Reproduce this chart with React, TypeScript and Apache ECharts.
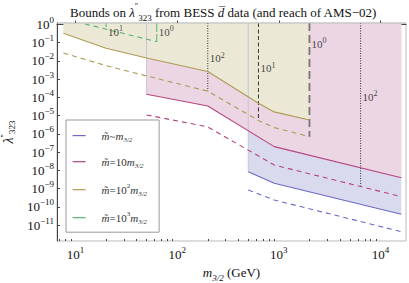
import React, { useEffect, useRef } from "react";
import * as echarts from "echarts";

const FONT = "'Liberation Serif', 'Times New Roman', serif";

// axis ranges (GeV, coupling)
const xRange = [6.58, 17800];
const yRange = [1.33e-12, 1.2];
const xTickExponents = [1, 2, 3, 4];
const yTickExponents = [0, -1, -2, -3, -4, -5, -6, -7, -8, -9, -10, -11];

// m~ = 10^2 m3/2 (yellow)
const yellowMass = [7.6, 20, 50, 200, 630, 900, 2000];
const yellowBound = [0.33, 0.05, 0.0145, 2.6e-3, 4.8e-5, 1.6e-5, 5.8e-6];
const yellowReach = [0.027, 5.5e-3, 1.5e-3, 2.2e-4, 5.4e-6, 2.2e-6, 7.0e-7];

// m~ = 10 m3/2 (pink)
const pinkMass = [50, 200, 900, 16000];
const pinkBound = [1.48e-4, 3.4e-5, 2.0e-7, 3.95e-9];
const pinkReach = [1.09e-5, 2.4e-6, 1.96e-8, 3.6e-10];

// m~ ~ m3/2 (blue)
const blueMass = [500, 900, 16000];
const blueBound = [8.4e-9, 1.95e-9, 3.9e-11];
const blueReach = [8.4e-10, 2.36e-10, 4.3e-12];

// m~ = 10^3 m3/2 (green)
const greenMass = [12.4, 63];
const greenReach = [1.06, 0.114];

// vertical marker lines
const markerMass = [20, 63, 200, 630, 2000, 6370];
const markerBottom = [0.56, 0.114, 2.2e-4, 5.4e-6, 7.0e-7, 1.28e-9];
const markerExponent = ["1", "0", "2", "1", "0", "2"];
const markerLabelY = [0.41, 0.41, 0.0136, 3.9e-3, 0.085, 1.1e-4];

const C = {
  blue: "#6a6ac8",
  pink: "#b5457f",
  yellow: "#ae9b55",
  green: "#55b470",
  dark: "#333333",
  fillBlue: "#dadaef",
  fillPink: "#ecd6e3",
  fillYellow: "#ebe8d6",
  edge: "#cbc5da",
};

const L = Math.log10;
const pts = (xs: number[], ys: number[]) => xs.map((x, i) => [L(x), L(ys[i])]);

const supRich = {
  b: { fontFamily: FONT, fontSize: 13, lineHeight: 18, color: "#111" },
  s: { fontFamily: FONT, fontSize: 9, lineHeight: 10, verticalAlign: "top", color: "#111" },
};
const powLabel = (v: number) => {
  const n = Math.round(v);
  return `{b|10}{s|${n < 0 ? "\u2212" + -n : n}}`;
};

const minorX: number[] = [];
for (let k = 0; k <= 4; k++) {
  for (let m = 2; m <= 9; m++) {
    const v = m * Math.pow(10, k);
    if (v > xRange[0] && v < xRange[1]) minorX.push(L(v));
  }
}

const legendNames = ["blue", "pink", "yellow", "green"];
const legendColors = [C.blue, C.pink, C.yellow, C.green];
const legendLabels: Record<string, string> = {
  blue: "{g| }{i|m\u0303}~{i|m}{s|3/2}",
  pink: "{g| }{i|m\u0303}=10{i|m}{s|3/2}",
  yellow: "{g| }{i|m\u0303}=10{e|2}{i|m}{s|3/2}",
  green: "{g| }{i|m\u0303}=10{e|3}{i|m}{s|3/2}",
};

const titleText =
  "{t|Bounds on }{l|\u03bb}{p|\u2033}{sub|323}{t| from BESS }{d|d\u0305}{t| data (and reach of AMS\u221202)}";

function buildOption() {
  const fill = (xs: number[], ys: number[], color: string, z: number) => ({
    type: "line",
    data: pts(xs, ys),
    symbol: "none",
    silent: true,
    z,
    color,
    lineStyle: { width: 0, opacity: 0 },
    areaStyle: { color, opacity: 1, origin: "end" },
  });
  const curve = (name: string, xs: number[], ys: number[], color: string, dashed: boolean) => ({
    name,
    type: "line",
    data: pts(xs, ys),
    symbol: "none",
    silent: true,
    z: 4,
    color,
    lineStyle: { color, width: 1.1, type: dashed ? [5, 4] : "solid" },
  });
  const edge = (x: number, yBottom: number) => ({
    type: "line",
    data: [
      [L(x), L(yRange[1])],
      [L(x), L(yBottom)],
    ],
    symbol: "none",
    silent: true,
    z: 2,
    color: C.edge,
    lineStyle: { color: C.edge, width: 1 },
  });
  const markerStyles = [
    { color: C.green, width: 1, type: [4, 2.5] },
    { color: C.green, width: 1, type: [9, 2] },
    { color: C.dark, width: 1, type: [1, 1.5] },
    { color: C.dark, width: 1, type: [4, 2.5] },
    { color: "#777", width: 1.8, type: [8, 4] },
    { color: C.dark, width: 1, type: [1, 1.5] },
  ];
  const markers = markerMass.map((x, i) => ({
    type: "line",
    data: [
      [L(x), L(yRange[1])],
      [L(x), L(markerBottom[i])],
    ],
    symbol: "none",
    silent: true,
    z: 3,
    color: markerStyles[i].color,
    lineStyle: markerStyles[i],
  }));

  return {
    animation: false,
    graphic: [
      {
        type: "text",
        left: 70,
        top: 2,
        style: {
          text: titleText,
          fill: "#111",
          rich: {
            t: { fontFamily: FONT, fontSize: 13, lineHeight: 20, fill: "#111" },
            l: { fontFamily: FONT, fontSize: 13, fontStyle: "italic", lineHeight: 20, fill: "#111" },
            p: { fontFamily: FONT, fontSize: 8, verticalAlign: "top", lineHeight: 10, fill: "#111" },
            sub: { fontFamily: FONT, fontSize: 9, verticalAlign: "bottom", lineHeight: 12, fill: "#111" },
            d: { fontFamily: FONT, fontSize: 13, fontStyle: "italic", lineHeight: 20, fill: "#111" },
          },
        },
      },
    ],
    grid: {
      left: 57,
      right: 3,
      top: 23,
      bottom: 42,
      show: true,
      borderColor: "#bbb",
      borderWidth: 1,
      backgroundColor: "#fff",
      containLabel: false,
      outerBoundsMode: "none",
    },
    legend: {
      left: 66,
      top: 120,
      orient: "vertical",
      itemWidth: 13,
      itemHeight: 14,
      itemGap: 13,
      padding: [10, 12, 7, 6],
      backgroundColor: "#fff",
      borderColor: "#999",
      borderWidth: 1,
      selectedMode: false,
      z: 10,
      data: legendNames.map((name, i) => ({
        name,
        itemStyle: { opacity: 0, borderWidth: 0 },
        lineStyle: { color: legendColors[i], type: "solid", width: 1.2, opacity: 1 },
      })),
      itemStyle: { opacity: 0, borderWidth: 0 },
      lineStyle: { type: "solid", width: 1.2 },
      formatter: (name: string) => legendLabels[name],
      textStyle: {
        fontFamily: FONT,
        fontSize: 11,
        color: "#333",
        rich: {
          g: { width: 11, fontSize: 11 },
          i: { fontFamily: FONT, fontSize: 11, fontStyle: "italic", color: "#333" },
          s: { fontFamily: FONT, fontSize: 7, fontStyle: "italic", verticalAlign: "bottom", lineHeight: 15, color: "#333" },
          e: { fontFamily: FONT, fontSize: 7, verticalAlign: "top", lineHeight: 15, color: "#333" },
        },
      },
    },
    xAxis: [
      {
        type: "value",
        min: L(xRange[0]),
        max: L(xRange[1]),
        position: "bottom",
        splitLine: { show: false },
        axisLine: { show: true, lineStyle: { color: "#444" } },
        axisTick: { inside: true, length: 4, customValues: xTickExponents, lineStyle: { color: "#444" } },
        axisLabel: { customValues: xTickExponents, formatter: powLabel, rich: supRich, margin: 4 },
        name: "{i|m}{s|3/2} (GeV)",
        nameLocation: "middle",
        nameGap: 21,
        nameTextStyle: {
          fontFamily: FONT,
          fontSize: 13,
          color: "#111",
          rich: {
            i: { fontFamily: FONT, fontSize: 13, fontStyle: "italic", color: "#111" },
            s: { fontFamily: FONT, fontSize: 9, fontStyle: "italic", verticalAlign: "bottom", lineHeight: 20, color: "#111" },
          },
        },
      },
      {
        type: "value",
        min: L(xRange[0]),
        max: L(xRange[1]),
        position: "bottom",
        splitLine: { show: false },
        axisLine: { show: false },
        axisTick: { inside: true, length: 2, customValues: minorX, lineStyle: { color: "#444" } },
        axisLabel: { show: false },
      },
    ],
    yAxis: [
      {
        type: "value",
        min: L(yRange[0]),
        max: L(yRange[1]),
        splitLine: { show: false },
        axisLine: { show: true, lineStyle: { color: "#444" } },
        axisTick: { inside: true, length: 3, customValues: yTickExponents, lineStyle: { color: "#444" } },
        axisLabel: { customValues: yTickExponents, formatter: powLabel, rich: supRich, margin: 3 },
        name: "{l|\u03bb}{p|\u2033}{s|323}",
        nameLocation: "middle",
        nameRotate: 90,
        nameGap: 30,
        nameTextStyle: {
          fontFamily: FONT,
          fontSize: 13,
          color: "#111",
          rich: {
            l: { fontFamily: FONT, fontSize: 14, fontStyle: "italic", lineHeight: 16, color: "#111" },
            p: { fontFamily: FONT, fontSize: 8, verticalAlign: "top", lineHeight: 9, color: "#111" },
            s: { fontFamily: FONT, fontSize: 9, verticalAlign: "bottom", lineHeight: 10, color: "#111" },
          },
        },
      },
    ],
    series: [
      fill(blueMass, blueBound, C.fillBlue, 1),
      fill(pinkMass, pinkBound, C.fillPink, 1),
      fill(yellowMass, yellowBound, C.fillYellow, 1),
      edge(pinkMass[0], pinkBound[0]),
      edge(blueMass[0], blueBound[0]),
      ...markers,
      curve("yellowReach", yellowMass, yellowReach, C.yellow, true),
      curve("pinkReach", pinkMass, pinkReach, C.pink, true),
      curve("blueReach", blueMass, blueReach, C.blue, true),
      curve("green", greenMass, greenReach, C.green, true),
      curve("yellow", yellowMass, yellowBound, C.yellow, false),
      curve("pink", pinkMass, pinkBound, C.pink, false),
      curve("blue", blueMass, blueBound, C.blue, false),
      {
        // top frame edge drawn above the fills
        type: "line",
        data: [
          [L(xRange[0]), L(yRange[1])],
          [L(xRange[1]), L(yRange[1])],
        ],
        symbol: "none",
        silent: true,
        z: 6,
        color: "#bbb",
        lineStyle: { color: "#bbb", width: 1 },
      },
      {
        type: "scatter",
        silent: true,
        z: 5,
        symbolSize: 0,
        data: markerMass.map((x, i) => [L(x), L(markerLabelY[i]), markerExponent[i]]),
        label: {
          show: true,
          position: "right",
          distance: 2,
          formatter: (p: any) => `{b|10}{s|${p.data[2]}}`,
          rich: {
            b: { fontFamily: FONT, fontSize: 11, lineHeight: 14, color: "#111" },
            s: { fontFamily: FONT, fontSize: 8, lineHeight: 9, verticalAlign: "top", color: "#111" },
          },
        },
      },
    ],
  };
}

export default function App() {
  const ref = useRef<HTMLDivElement>(null);
  useEffect(() => {
    if (!ref.current) return;
    const chart = echarts.init(ref.current, undefined, { renderer: "svg" });
    chart.setOption(buildOption() as any);
    return () => chart.dispose();
  }, []);
  return (
    <div
      ref={ref}
      style={{ position: "fixed", left: 0, top: 0, width: 409, height: 283, background: "#fff" }}
    />
  );
}
